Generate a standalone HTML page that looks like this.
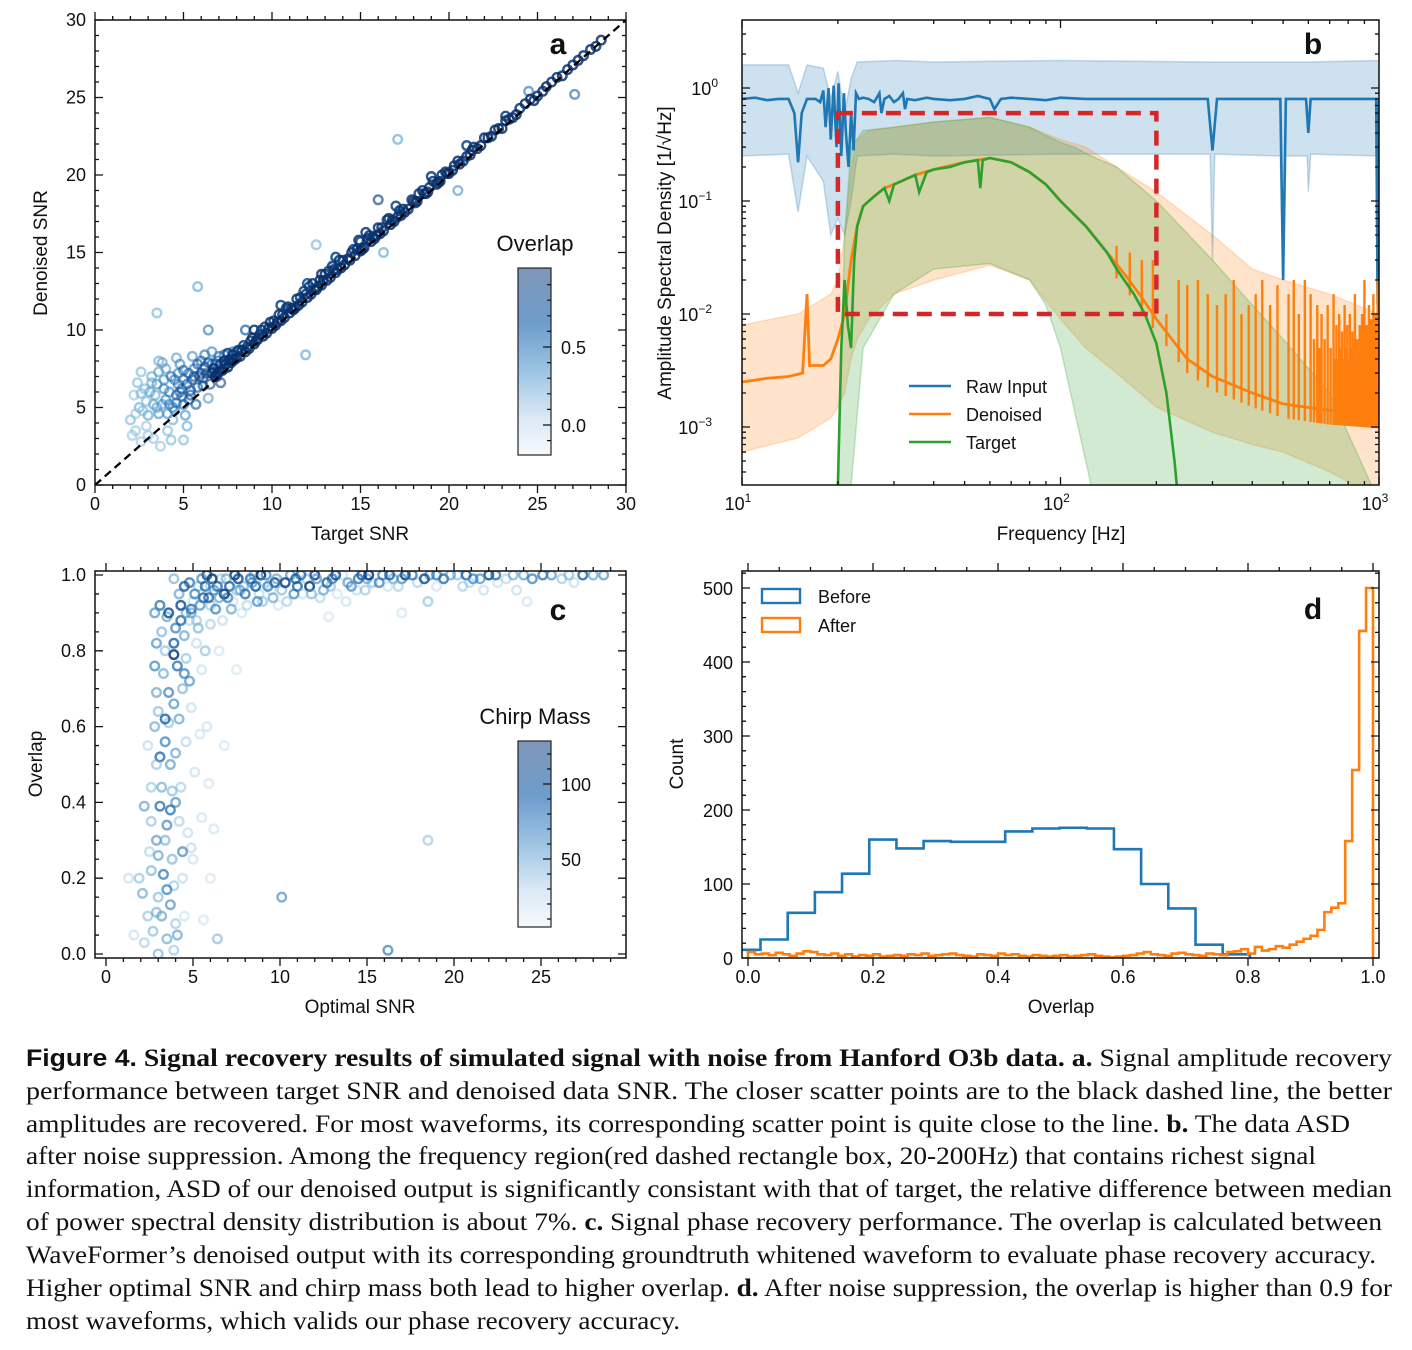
<!DOCTYPE html>
<html><head><meta charset="utf-8">
<style>
html,body{margin:0;padding:0;background:#fff;}
svg{display:block;font-family:"Liberation Sans",sans-serif;}
</style></head>
<body>
<svg id="fig" width="1412" height="1350" viewBox="0 0 1412 1350" xmlns="http://www.w3.org/2000/svg">
<defs>
<clipPath id="clipA"><rect x="95" y="20" width="531" height="465"/></clipPath>
<clipPath id="clipB"><rect x="742" y="20" width="637" height="465"/></clipPath>
<clipPath id="clipC"><rect x="95" y="571" width="531" height="387"/></clipPath>
<clipPath id="clipD"><rect x="742" y="571" width="637" height="387"/></clipPath>
<linearGradient id="cbGrad" x1="0" y1="0" x2="0" y2="1">
<stop offset="0" stop-color="#7f95b8"/>
<stop offset="0.3" stop-color="#6e9dcc"/>
<stop offset="0.55" stop-color="#9cc3e3"/>
<stop offset="0.8" stop-color="#dbe8f5"/>
<stop offset="1" stop-color="#f5f9fd"/>
</linearGradient>
</defs>
<g id="layer"></g>
<g font-family="Liberation Serif, serif" font-size="25" fill="#111">
<text x="26" y="1066" textLength="1366" lengthAdjust="spacingAndGlyphs"><tspan font-family="Liberation Sans, sans-serif" font-weight="bold" font-size="24">Figure 4.</tspan><tspan font-weight="bold"> Signal recovery results of simulated signal with noise from Hanford O3b data. a.</tspan> Signal amplitude recovery</text>
<text x="26" y="1099" textLength="1366" lengthAdjust="spacingAndGlyphs">performance between target SNR and denoised data SNR. The closer scatter points are to the black dashed line, the better</text>
<text x="26" y="1132" textLength="1324" lengthAdjust="spacingAndGlyphs">amplitudes are recovered. For most waveforms, its corresponding scatter point is quite close to the line. <tspan font-weight="bold">b.</tspan> The data ASD</text>
<text x="26" y="1164" textLength="1290" lengthAdjust="spacingAndGlyphs">after noise suppression. Among the frequency region(red dashed rectangle box, 20-200Hz) that contains richest signal</text>
<text x="26" y="1197" textLength="1366" lengthAdjust="spacingAndGlyphs">information, ASD of our denoised output is significantly consistant with that of target, the relative difference between median</text>
<text x="26" y="1230" textLength="1356" lengthAdjust="spacingAndGlyphs">of power spectral density distribution is about 7%. <tspan font-weight="bold">c.</tspan> Signal phase recovery performance. The overlap is calculated between</text>
<text x="26" y="1263" textLength="1350" lengthAdjust="spacingAndGlyphs">WaveFormer’s denoised output with its corresponding groundtruth whitened waveform to evaluate phase recovery accuracy.</text>
<text x="26" y="1296" textLength="1366" lengthAdjust="spacingAndGlyphs">Higher optimal SNR and chirp mass both lead to higher overlap. <tspan font-weight="bold">d.</tspan> After noise suppression, the overlap is higher than 0.9 for</text>
<text x="26" y="1329" textLength="654" lengthAdjust="spacingAndGlyphs">most waveforms, which valids our phase recovery accuracy.</text>
</g>
</svg>
<script>
// ---------- Panel a data: [targetSNR, denoisedSNR, overlap] ----------
const aDiagonal = [
[6.6,7.2,0.85],[6.9,7.2,0.9],[7.1,7.8,0.8],[7.4,7.8,0.95],[7.6,8.1,0.85],[7.9,8.1,0.95],[8.1,8.7,0.85],[8.3,8.7,0.95],[8.6,8.9,0.9],[8.8,9.3,0.85],[9.1,9.3,0.95],[9.3,9.7,0.9],[9.6,10.2,0.8],[9.8,10.1,0.95],[10.1,10.6,0.85],[10.3,10.5,0.95],[10.6,11.0,0.9],[10.8,11.4,0.8],[11.1,11.4,0.95],[11.3,11.4,0.9],[11.6,12.1,0.85],[11.9,12.3,0.95],[12.1,12.8,0.8],[12.4,12.6,0.95],[12.7,13.2,0.9],[12.9,13.2,0.95],[13.2,13.8,0.85],[13.5,13.9,0.95],[13.7,13.9,0.9],[14.0,14.5,0.85],[14.3,14.6,0.95],[14.6,15.2,0.8],[14.8,15.2,0.95],[15.1,15.2,0.9],[15.4,15.9,0.85],[15.7,16.0,0.95],[15.9,16.1,0.9],[16.2,16.6,0.95],[16.5,17.1,0.85],[16.8,17.1,0.95],[17.1,17.3,0.9],[17.4,17.8,0.95],[17.7,17.8,0.9],[18.0,18.3,0.95],[18.3,18.8,0.85],[18.6,18.8,0.95],[18.9,19.2,0.9],[19.3,19.4,0.95],[19.6,20.0,0.9],[19.9,20.1,0.95],[20.3,20.6,0.9],[20.6,20.7,0.95],[21.0,21.2,0.95],[21.4,21.8,0.9],[21.8,21.9,0.95],[22.2,22.4,0.95],[22.6,22.9,0.9],[23.0,23.0,0.95],[23.4,23.6,0.95],[23.8,23.9,0.9],[24.3,24.6,0.95],[24.8,24.8,0.95],[25.3,25.4,0.9],[25.8,26.0,0.95],[26.4,26.4,0.95],[27.0,27.1,0.9],[27.6,27.7,0.95],[28.3,28.3,0.95],
[6.8,7.0,0.95],[7.2,7.4,1.0],[7.7,7.9,1.0],[8.2,8.3,1.0],[8.7,8.8,1.0],[9.2,9.4,1.0],[9.7,9.8,1.0],[10.2,10.3,1.0],[10.7,10.8,1.0],[11.2,11.3,1.0],[11.7,11.8,1.0],[12.2,12.3,1.0],[12.8,12.9,1.0],[13.3,13.4,1.0],[13.9,14.0,1.0],[14.4,14.5,1.0],[15.0,15.1,1.0],[15.6,15.7,1.0],[16.1,16.2,1.0],[16.7,16.8,1.0],[17.3,17.4,1.0],[18.1,18.2,1.0],[18.8,18.9,1.0],[19.5,19.6,1.0],[20.2,20.3,1.0],[21.2,21.3,1.0],[22.4,22.5,1.0],[23.6,23.7,1.0],[25.0,25.1,1.0],[26.7,26.8,1.0],
[7.5,8.5,0.8],[9.0,10.0,0.85],[10.5,11.6,0.8],[12.0,13.0,0.75],[13.6,14.7,0.8],[15.3,16.3,0.85],[17.0,18.0,0.8],[19.0,19.9,0.85],[21.0,21.9,0.8],[23.2,23.8,0.85],[12.8,13.6,0.95],[14.9,15.8,0.95]
];
const aDiagonal2 = [
[6.7,7.5,0.9],[7.0,7.3,1.0],[7.3,8.0,0.9],[7.5,7.6,1.0],[7.8,8.4,0.9],[8.0,8.2,1.0],[8.4,9.0,0.85],[8.5,8.6,1.0],[8.9,9.5,0.9],[9.0,9.1,1.0],[9.4,10.0,0.85],[9.5,9.6,1.0],[9.9,10.5,0.9],[10.0,10.1,1.0],[10.4,11.0,0.9],[10.5,10.6,1.0],[10.9,11.5,0.85],[11.0,11.1,1.0],[11.4,12.0,0.9],[11.5,11.6,1.0],[11.8,12.5,0.85],[12.0,12.1,1.0],[12.3,13.0,0.9],[12.5,12.6,1.0],[12.6,12.8,1.0],[13.0,13.6,0.9],[13.1,13.2,1.0],[13.4,14.1,0.85],[13.6,13.7,1.0],[13.8,14.5,0.9],[14.1,14.2,1.0],[14.5,15.0,0.9],[14.7,14.8,1.0],[15.0,15.7,0.85],[15.2,15.3,1.0],[15.5,16.1,0.9],[15.8,15.9,1.0],[16.0,16.6,0.9],[16.3,16.4,1.0],[16.6,17.2,0.9],[16.9,17.0,1.0],[17.2,17.7,0.9],[17.5,17.6,1.0],[17.9,18.4,0.9],[18.2,18.3,1.0],[18.5,19.0,0.9],[18.7,18.8,1.0],[19.1,19.6,0.9],[19.4,19.5,1.0],[19.8,20.2,0.9],[20.0,20.1,1.0],[20.5,20.9,0.9],[20.8,20.9,1.0],[21.3,21.6,0.95],[21.6,21.7,1.0],[22.0,22.4,0.95],[22.8,23.0,1.0],[23.2,23.5,0.95],[24.0,24.3,1.0],[24.6,24.9,0.95],[25.5,25.7,1.0],[26.1,26.3,0.95],[27.3,27.4,1.0],[28.0,28.1,0.95],[28.6,28.7,1.0]
];
const aCluster = [
[2.0,4.2,0.1],[2.3,3.5,0.0],[2.5,5.0,0.2],[2.8,6.2,0.1],[2.2,5.8,0.0],[3.0,4.5,0.3],[3.2,7.0,0.2],[2.6,7.3,0.1],[3.5,6.5,0.4],[3.8,5.2,0.3],[3.3,3.0,0.0],[4.0,7.5,0.3],[4.2,6.0,0.5],[4.5,4.8,0.5],[3.7,2.5,0.0],[4.1,3.5,0.1],[4.8,7.8,0.5],[5.0,6.8,0.6],[5.3,5.5,0.7],[4.6,8.2,0.3],[5.6,7.5,0.6],[5.8,6.3,0.8],[6.0,8.0,0.7],[6.3,7.2,0.8],[6.5,6.5,0.9],[6.8,7.8,0.7],[7.0,8.3,0.7],[7.3,7.5,0.8],[2.9,3.8,0.0],[3.4,5.8,0.2],[4.4,4.2,0.2],[5.1,4.5,0.4],[5.5,8.3,0.4],[6.2,8.4,0.6],[3.6,8.0,0.2],[2.4,6.6,0.1],[4.9,5.7,0.6],[5.2,3.8,0.2],[4.3,2.9,0.1],[3.9,6.8,0.4],[7.6,8.1,0.8],[8.0,8.6,0.8],[4.7,6.5,0.6],[3.1,6.0,0.3],[2.7,4.8,0.1],[6.6,8.6,0.5],[7.8,8.6,0.6],[5.9,7.0,0.9],[5.4,6.1,0.8],[6.1,6.4,0.9],[5.7,5.2,0.8],[4.4,5.0,0.6],[3.6,4.6,0.4],[3.0,3.2,0.0],[2.6,2.8,0.0],[5.0,2.9,0.1],[4.7,7.2,0.5],[6.4,5.6,0.3],[7.1,6.6,0.9],[6.9,7.0,0.9],[4.0,5.5,0.5],[5.5,6.8,0.8],[6.2,7.6,0.8],[4.9,6.2,0.7],[3.3,5.2,0.3],[4.6,5.3,0.6],[5.3,7.2,0.7],[6.7,7.3,0.9],[2.1,3.2,0.0],[3.8,7.9,0.3],
[4.3,7.0,0.6],[4.8,6.0,0.7],[5.2,6.5,0.8],[5.6,7.0,0.85],[6.0,7.2,0.9],[5.8,7.8,0.8],[5.0,7.4,0.7],[4.5,6.8,0.6],[6.4,7.9,0.85],[3.9,6.2,0.5],[4.2,5.2,0.5],[4.6,5.8,0.7],[5.4,5.8,0.85],[6.1,6.9,0.9],[6.6,7.8,0.8],[3.6,7.3,0.3],[3.2,6.6,0.2],[2.9,5.4,0.1],[3.5,5.0,0.3],[4.1,4.6,0.4],[5.0,5.2,0.7],[6.9,8.0,0.75],[7.3,8.4,0.7],[2.3,4.6,0.0],[2.6,5.9,0.1]
];
const aOutliers = [
[17.1,22.3,0.2],[16.3,15.0,0.2],[27.1,25.2,0.6],[16.0,18.4,0.9],[5.8,12.8,0.2],[3.5,11.1,0.1],[6.4,10.0,0.5],[8.5,10.0,0.8],[11.9,8.4,0.2],[13.5,14.3,0.0],[12.5,15.5,0.1],[20.5,19.0,0.3],[24.5,25.4,0.5]
];
const aTicks = [0,5,10,15,20,25,30];
const aCbarTicks = [0.0,0.5];

// ---------- Panel b data: [frequency Hz, ASD] ----------
const rawInput = [[10,0.8],[11,0.82],[12,0.78],[13,0.8],[14,0.8],[14.6,0.6],[15,0.22],[15.4,0.6],[16,0.8],[17,0.8],[17.6,0.75],[18,0.95],[18.3,0.45],[18.7,1.0],[19,0.35],[19.4,1.05],[19.8,0.3],[20.1,1.1],[20.5,0.25],[20.9,0.9],[21.2,0.4],[21.6,0.2],[22,0.6],[22.4,0.28],[22.8,0.9],[23.3,0.8],[24,0.82],[25,0.8],[26,0.75],[27,0.9],[27.4,0.6],[28,0.8],[29,0.85],[30,0.75],[31,0.8],[32,0.9],[32.5,0.65],[33,0.8],[35,0.78],[38,0.82],[40,0.8],[45,0.78],[50,0.8],[55,0.85],[60,0.8],[62,0.65],[65,0.8],[70,0.82],[80,0.8],[90,0.78],[100,0.82],[120,0.8],[150,0.8],[200,0.8],[250,0.8],[290,0.8],[300,0.28],[310,0.8],[400,0.8],[490,0.8],[500,0.02],[510,0.8],[590,0.8],[600,0.4],[610,0.8],[700,0.8],[800,0.8],[900,0.8],[980,0.8],[990,0.012],[1000,0.8]];
const rawBand = [[10,1.6,0.25],[14,1.6,0.26],[15,0.9,0.08],[16,1.6,0.25],[18,1.5,0.15],[19,0.8,0.05],[20,1.4,0.07],[21,0.6,0.05],[22,1.2,0.1],[23,1.7,0.25],[30,1.75,0.26],[40,1.7,0.25],[100,1.75,0.26],[295,1.7,0.26],[300,1.7,0.03],[305,1.7,0.26],[490,1.7,0.25],[500,1.7,0.02],[510,1.7,0.25],[595,1.7,0.25],[600,1.7,0.12],[610,1.7,0.26],[1000,1.75,0.25]];
const denoised = [[10,0.0025],[12,0.0027],[14,0.0028],[15.5,0.003],[16,0.015],[16.3,0.0035],[18,0.0035],[19,0.004],[20,0.006],[21,0.01],[22,0.03],[23,0.06],[24,0.09],[26,0.11],[28,0.13],[30,0.14],[35,0.17],[40,0.19],[50,0.22],[60,0.24],[70,0.22],[80,0.18],[90,0.14],[100,0.1],[120,0.06],[140,0.035],[160,0.022],[180,0.014],[200,0.009],[250,0.004],[300,0.0028],[400,0.002],[500,0.0016],[700,0.0014],[1000,0.0013]];
const denoisedSpikes = [[150,0.04],[165,0.035],[180,0.03],[195,0.03],[215,0.01],[235,0.02],[250,0.018],[270,0.02],[290,0.015],[310,0.012],[330,0.015],[350,0.02],[370,0.01],[390,0.012],[410,0.015],[430,0.02],[455,0.012],[480,0.018],[520,0.015],[540,0.02],[560,0.01],[585,0.02],[610,0.015],[625,0.006],[640,0.012],[650,0.005],[660,0.01],[675,0.006],[690,0.012],[705,0.005],[720,0.015],[728,0.004],[735,0.008],[742,0.004],[750,0.01],[758,0.005],[765,0.007],[772,0.004],[780,0.012],[788,0.005],[795,0.008],[802,0.004],[810,0.01],[818,0.005],[825,0.007],[832,0.005],[840,0.015],[848,0.004],[855,0.006],[862,0.005],[870,0.008],[878,0.004],[885,0.01],[892,0.005],[900,0.02],[908,0.005],[915,0.008],[922,0.004],[930,0.012],[938,0.005],[945,0.009],[952,0.005],[960,0.015],[968,0.005],[975,0.01],[982,0.006],[990,0.02],[996,0.006]];
const denoisedBand = [[10,0.008,0.0006],[15,0.01,0.0008],[19,0.015,0.0012],[20,0.02,0.0015],[21,0.05,0.002],[22,0.2,0.004],[23,0.35,0.006],[25,0.42,0.009],[30,0.45,0.015],[40,0.5,0.02],[60,0.55,0.027],[80,0.45,0.02],[100,0.35,0.009],[120,0.3,0.005],[150,0.2,0.003],[200,0.12,0.0015],[300,0.05,0.0009],[400,0.025,0.0007],[500,0.02,0.0006],[700,0.015,0.0004],[850,0.012,0.0003],[1000,0.01,0.0003]];
const target = [[20,0.0003],[20.5,0.005],[21,0.02],[21.5,0.008],[22,0.005],[22.5,0.03],[23,0.06],[24,0.09],[26,0.11],[28,0.13],[29,0.1],[30,0.14],[35,0.17],[36,0.12],[38,0.18],[40,0.19],[45,0.2],[50,0.22],[55,0.23],[56,0.13],[57,0.23],[60,0.24],[70,0.22],[80,0.18],[90,0.14],[100,0.1],[120,0.06],[140,0.035],[150,0.025],[170,0.015],[184,0.01],[200,0.0055],[215,0.002],[228,0.0005],[232,0.0003]];
const targetBand = [[20,0.0003,0.0003],[21,0.05,0.0003],[22,0.3,0.0003],[24,0.42,0.005],[30,0.45,0.015],[40,0.5,0.025],[60,0.55,0.028],[80,0.45,0.02],[90,0.38,0.012],[100,0.33,0.005],[110,0.3,0.0015],[125,0.25,0.0003],[150,0.2,0.0003],[200,0.1,0.0003],[300,0.03,0.0003],[400,0.012,0.0003],[500,0.006,0.0003],[700,0.002,0.0003],[850,0.0006,0.0003],[950,0.0003,0.0003]];
const bRegion = [20,200,0.01,0.6];
const bXTicks = [1,2,3];
const bYTicks = [0,-1,-2,-3];

// ---------- Panel c data: [optimalSNR, overlap, chirpMass] ----------
const cTop = [
[4.2,0.95,60],[4.8,0.98,90],[5.3,0.97,40],[5.8,1.0,110],[6.2,0.96,70],[6.6,0.99,30],[7.0,0.94,85],[7.4,1.0,120],[7.9,0.97,50],[8.3,0.99,95],[8.8,0.95,25],[9.2,1.0,80],[9.7,0.98,110],[10.1,0.96,45],[10.6,1.0,70],[11.0,0.97,100],[11.5,0.99,35],[12.0,1.0,115],[12.5,0.96,60],[13.0,0.99,90],[13.6,1.0,20],[14.1,0.97,75],[14.7,1.0,105],[15.3,0.98,40],[15.9,1.0,85],[16.5,0.99,55],[17.2,1.0,120],[17.9,0.98,30],[18.6,1.0,70],[19.4,0.99,95],[20.2,1.0,45],[21.1,0.99,80],[22.0,1.0,110],[23.0,0.99,25],[24.0,1.0,65],[25.1,1.0,90],[26.2,0.99,35],[27.4,1.0,100],[28.6,1.0,70],
[5.0,0.93,20],[5.5,0.99,75],[6.0,0.92,35],[6.4,0.97,95],[6.9,0.99,55],[7.3,0.93,15],[7.7,0.96,65],[8.1,0.92,25],[8.6,0.97,105],[9.0,0.93,40],[9.5,0.96,20],[10.4,0.93,30],[11.3,0.95,15],[12.3,0.94,25],[13.3,0.95,10],[14.4,0.96,20],[16.2,0.97,15],[18.5,0.93,40],[19.0,0.97,12],[22.5,0.98,15],[23.6,0.96,20],[4.6,0.9,55],[5.2,0.88,35],[6.7,0.88,20],[7.8,0.9,12],[9.9,0.92,10],[12.8,0.89,8],[17.0,0.9,10],[24.2,0.93,12],[20.5,0.97,30],[15.0,0.99,60],[10.9,0.99,100],[8.5,1.0,60],[6.8,0.95,120],[5.6,0.94,100],[3.9,0.99,50],[26.9,0.98,20],[21.7,0.96,18],[13.8,0.93,14]
];
const cTop2 = [
[4.5,0.97,100],[5.1,0.95,80],[5.7,0.97,95],[6.1,0.99,120],[6.5,0.94,60],[7.1,0.97,100],[7.6,0.99,110],[8.0,0.95,90],[8.4,0.98,70],[8.9,1.0,125],[9.3,0.97,85],[9.8,0.99,60],[10.3,0.98,115],[10.8,0.95,75],[11.2,1.0,95],[11.7,0.97,120],[12.1,0.99,70],[12.7,0.98,100],[13.2,1.0,110],[13.9,0.98,65],[14.5,0.99,90],[15.1,1.0,120],[15.7,0.98,80],[16.3,1.0,100],[17.0,0.99,75],[17.6,1.0,90],[18.3,0.99,110],[19.0,1.0,85],[19.8,1.0,60],[20.7,1.0,100],[21.5,0.99,70],[22.4,1.0,90],[23.4,1.0,55],[24.5,0.99,80],[25.6,1.0,70],[26.6,1.0,45],[28.0,1.0,60],
[4.3,0.92,110],[4.9,0.91,90],[5.4,0.92,70],[5.9,0.94,95],[6.3,0.91,80],[7.2,0.91,60],[8.7,0.93,75],[9.6,0.94,55],[11.8,0.95,45],[7.5,0.96,40],[6.0,0.97,30],[9.1,0.98,35],[14.9,0.96,35],[12.9,0.97,40],[16.8,0.97,30],[20.9,0.98,25]
];
const cLow = [
[3.1,0.92,90],[2.8,0.9,70],[3.5,0.89,60],[4.0,0.86,80],[3.2,0.85,50],[2.9,0.82,70],[3.9,0.82,100],[4.5,0.84,60],[3.4,0.8,40],[2.8,0.76,75],[3.3,0.74,55],[4.1,0.76,90],[4.6,0.78,40],[2.9,0.69,60],[3.6,0.69,80],[4.4,0.7,50],[3.0,0.64,45],[3.9,0.66,70],[2.8,0.6,55],[3.4,0.56,80],[3.1,0.52,95],[4.0,0.53,60],[2.9,0.5,40],[3.7,0.5,65],[2.6,0.44,35],[3.2,0.44,55],[3.8,0.43,45],[4.3,0.44,30],[2.2,0.39,60],[3.1,0.39,90],[4.0,0.4,70],[2.6,0.35,40],[3.5,0.34,75],[4.2,0.35,30],[2.9,0.3,65],[3.4,0.3,50],[4.7,0.32,20],[1.9,0.2,40],[2.6,0.22,50],[3.3,0.21,85],[3.9,0.18,35],[4.4,0.2,20],[2.1,0.16,55],[3.0,0.15,45],[3.7,0.13,70],[2.4,0.1,40],[3.2,0.1,60],[4.0,0.08,35],[2.7,0.06,45],[3.5,0.04,55],[2.2,0.03,30],[3.0,0.0,50],[3.9,0.01,35],[6.4,0.04,45],[10.1,0.15,70],[18.5,0.3,35],[16.2,0.01,80],
[4.8,0.88,25],[5.2,0.82,20],[5.5,0.75,15],[4.9,0.65,18],[5.4,0.58,12],[5.8,0.6,14],[5.1,0.48,15],[5.9,0.45,10],[4.6,0.56,25],[5.5,0.36,12],[6.2,0.33,10],[5.0,0.25,14],[6.0,0.2,10],[4.5,0.1,12],[1.6,0.05,15],[1.3,0.2,18],[5.6,0.09,10],[6.8,0.55,8],[7.5,0.75,8],[6.5,0.8,10],[4.2,0.62,60],[3.6,0.61,40],[2.5,0.27,25],[4.9,0.28,20],[3.8,0.25,50],[2.4,0.55,20],
[3.6,0.9,110],[4.3,0.88,95],[3.9,0.79,120],[4.5,0.74,80],[3.4,0.62,100],[4.8,0.72,70],[3.7,0.38,90],[4.4,0.27,75],[3.0,0.26,60],[3.5,0.17,80],[4.1,0.05,60],[2.9,0.11,50],[4.9,0.9,60],[5.3,0.86,50],[6.0,0.87,30],[5.7,0.8,40]
];
const cXTicks = [0,5,10,15,20,25];
const cYTicks = [0.0,0.2,0.4,0.6,0.8,1.0];
const cCbarTicks = [50,100];

// ---------- Panel d data: histogram counts ----------
const beforeStart = -0.0235;
const beforeWidth = 0.0435;
const beforeCounts = [11,25,61,89,114,160,148,158,157,157,171,175,176,175,147,100,67,18,5];
const afterStart = 0.0;
const afterWidth = 1/90;
const afterCounts = [8,5,6,4,7,5,3,6,9,8, 5,4,6,3,5,2,4,3,5,2, 3,4,3,5,4,6,3,4,5,6, 4,3,2,5,4,3,6,4,5,3, 2,4,3,2,3,4,2,3,4,5, 3,2,1,2,3,4,6,8,5,4, 3,6,7,5,4,3,6,5,4,8, 9,12,6,15,10,12,16,14,18,22, 26,30,38,62,68,74,158,254,442,500];
const dXTicks = [0.0,0.2,0.4,0.6,0.8,1.0];
const dYTicks = [0,100,200,300,400,500];

// ---------- helpers ----------
const NS = 'http://www.w3.org/2000/svg';
const layer = document.getElementById('layer');
function mk(tag, attrs, parent) {
  const e = document.createElementNS(NS, tag);
  for (const k in attrs) e.setAttribute(k, attrs[k]);
  (parent || layer).appendChild(e);
  return e;
}
function txt(x, y, s, size, anchor, parent, extra) {
  const t = mk('text', Object.assign({x: x, y: y, 'font-size': size, 'text-anchor': anchor || 'middle', fill: '#111'}, extra || {}), parent);
  t.textContent = s;
  return t;
}
const BLUES = [[247,251,255],[222,235,247],[198,219,239],[158,202,225],[107,174,214],[66,146,198],[33,113,181],[8,81,156],[8,48,107]];
function blues(t) {
  t = Math.max(0, Math.min(1, t));
  const p = t * 8, i = Math.min(7, Math.floor(p)), f = p - i;
  const a = BLUES[i], b = BLUES[i + 1];
  return 'rgb(' + [0,1,2].map(k => Math.round(a[k] + (b[k] - a[k]) * f)).join(',') + ')';
}
function ticksLinear(g, x0, y0, x1, y1, sx, sy, xMaj, xMin, yMaj, yMin) {
  let d = '';
  xMaj.forEach(v => { const x = sx(v); d += `M${x},${y1}v-8M${x},${y0}v8`; });
  xMin.forEach(v => { const x = sx(v); d += `M${x},${y1}v-4M${x},${y0}v4`; });
  yMaj.forEach(v => { const y = sy(v); d += `M${x0},${y}h8M${x1},${y}h-8`; });
  yMin.forEach(v => { const y = sy(v); d += `M${x0},${y}h4M${x1},${y}h-4`; });
  mk('path', {d: d, stroke: '#111', 'stroke-width': 1.3, fill: 'none'}, g);
}
function range(a, b, s) { const r = []; for (let v = a; v <= b + 1e-9; v += s) r.push(+v.toFixed(6)); return r; }
function frame(g, x0, y0, x1, y1) {
  mk('rect', {x: x0, y: y0, width: x1 - x0, height: y1 - y0, fill: 'none', stroke: '#111', 'stroke-width': 1.5}, g);
}
function ring(g, x, y, col, op) {
  return mk('circle', {cx: x, cy: y, r: 4.3, fill: 'none', stroke: col, 'stroke-width': 2.4, 'stroke-opacity': op}, g);
}

// ================= Panel a =================
const gA = mk('g', {});


const xa = v => 95 + v * 531 / 30;
const ya = v => 485 - v * 465 / 30;
const ovNorm = v => (v + 0.19) / 1.19;
const gAp = mk('g', {'clip-path': 'url(#clipA)'}, gA);


aCluster.forEach(p => { const c = ring(gAp, xa(p[0]), ya(p[1]), blues(0.3 + ovNorm(p[2]) * 0.7), 0.6);   });
aOutliers.forEach(p => { const c = ring(gAp, xa(p[0]), ya(p[1]), blues(0.3 + ovNorm(p[2]) * 0.7), 0.65);   });
aDiagonal.concat(aDiagonal2).forEach(p => { const c = ring(gAp, xa(p[0]), ya(p[1]), blues(0.35 + ovNorm(p[2]) * 0.7), 0.85);   });
const diag = mk('line', {x1: xa(0), y1: ya(0), x2: xa(30), y2: ya(30), stroke: '#000', 'stroke-width': 2.3, 'stroke-dasharray': '8,5'}, gAp);


frame(gA, 95, 20, 626, 485);
ticksLinear(gA, 95, 485, 626, 20, xa, ya, aTicks, range(0, 30, 1), aTicks, range(0, 30, 1));
aTicks.forEach(v => { const t = txt(xa(v), 510, String(v), 18, 'middle', gA);   });
aTicks.forEach(v => { const t = txt(86, ya(v) + 6, String(v), 18, 'end', gA);   });
let t;
t = txt(360, 540, 'Target SNR', 19, 'middle', gA);  
t = txt(0, 0, 'Denoised SNR', 19, 'middle', gA, {transform: 'translate(47,253) rotate(-90)'});  
t = txt(558, 54, 'a', 30, 'middle', gA, {'font-weight': 'bold'});  
const cbA = mk('g', {}, gA);


mk('rect', {x: 518, y: 268, width: 33, height: 187, fill: 'url(#cbGrad)', stroke: '#222', 'stroke-width': 1.2}, cbA);
const cbAy = v => 425 - v * 156;
let dd = '';
range(-0.1, 0.9, 0.1).forEach(v => { dd += `M551,${cbAy(v)}h-4`; });
aCbarTicks.forEach(v => { dd += `M551,${cbAy(v)}h-8`; });
mk('path', {d: dd, stroke: '#111', 'stroke-width': 1.2}, cbA);
aCbarTicks.forEach(v => { const tt = txt(561, cbAy(v) + 7, v.toFixed(1), 18, 'start', cbA);   });
t = txt(535, 251, 'Overlap', 22, 'middle', cbA);  

// ================= Panel b =================
const gB = mk('g', {});


const xb = f => 742 + (Math.log10(f) - 1) * 318.5;
const yb = a => 88 - Math.log10(a) * 113;
const gBp = mk('g', {'clip-path': 'url(#clipB)'}, gB);
function bandPath(arr) {
  let d = 'M' + arr.map(p => xb(p[0]) + ',' + yb(p[1])).join('L');
  d += 'L' + arr.slice().reverse().map(p => xb(p[0]) + ',' + yb(p[2])).join('L') + 'Z';
  return d;
}
function linePath(arr) { return 'M' + arr.map(p => xb(p[0]) + ',' + yb(p[1])).join('L'); }
let e;
e = mk('path', {d: bandPath(rawBand), fill: '#1f77b4', 'fill-opacity': 0.22, stroke: '#1f77b4', 'stroke-opacity': 0.25, 'stroke-width': 1.5}, gBp);
 
e = mk('path', {d: bandPath(denoisedBand), fill: '#ff7f0e', 'fill-opacity': 0.22, stroke: '#ff7f0e', 'stroke-opacity': 0.2, 'stroke-width': 1.5}, gBp);
 
e = mk('path', {d: bandPath(targetBand), fill: '#2ca02c', 'fill-opacity': 0.22, stroke: '#2ca02c', 'stroke-opacity': 0.25, 'stroke-width': 1.5}, gBp);
 
e = mk('path', {d: linePath(rawInput), fill: 'none', stroke: '#1f77b4', 'stroke-width': 2.6}, gBp);
 
function interpDen(f) {
  for (let i = 0; i < denoised.length - 1; i++) {
    const a = denoised[i], b = denoised[i + 1];
    if (f >= a[0] && f <= b[0]) {
      const t2 = (Math.log10(f) - Math.log10(a[0])) / (Math.log10(b[0]) - Math.log10(a[0]));
      return Math.pow(10, Math.log10(a[1]) + t2 * (Math.log10(b[1]) - Math.log10(a[1])));
    }
  }
  return denoised[denoised.length - 1][1];
}
let sp = '';
denoisedSpikes.forEach(s => { sp += `M${xb(s[0])},${yb(interpDen(s[0]) * 0.75)}V${yb(s[1])}`; });
e = mk('path', {d: sp, stroke: '#ff7f0e', 'stroke-width': 2.4, fill: 'none'}, gBp);
 
e = mk('path', {d: linePath(denoised), fill: 'none', stroke: '#ff7f0e', 'stroke-width': 2.8}, gBp);
 
e = mk('path', {d: linePath(target), fill: 'none', stroke: '#2ca02c', 'stroke-width': 2.6}, gBp);
 
e = mk('rect', {x: xb(bRegion[0]), y: yb(bRegion[3]), width: xb(bRegion[1]) - xb(bRegion[0]), height: yb(bRegion[2]) - yb(bRegion[3]), fill: 'none', stroke: '#d62728', 'stroke-width': 4.5, 'stroke-dasharray': '15,9'}, gBp);
 
frame(gB, 742, 20, 1379, 485);
let db = '';
for (let dec = 1; dec <= 2; dec++) for (let m = 1; m <= 9; m++) {
  const x = xb(m * Math.pow(10, dec)); const L = m === 1 ? 8 : 4;
  db += `M${x},485v-${L}M${x},20v${L}`;
}
db += `M${xb(1000)},485v-8`;
for (let dec = -4; dec <= 0; dec++) for (let m = 1; m <= 9; m++) {
  const y = yb(m * Math.pow(10, dec)); if (y < 20 || y > 485) continue; const L = m === 1 ? 8 : 4;
  db += `M742,${y}h${L}M1379,${y}h-${L}`;
}
mk('path', {d: db, stroke: '#111', 'stroke-width': 1.3, fill: 'none'}, gB);
bXTicks.forEach(p => {
  const tt = txt(xb(Math.pow(10, p)) - 4, 510, '10', 18, 'middle', gB);
  const s = mk('tspan', {dy: -8, 'font-size': 12}, tt); s.textContent = String(p);
   
});
bYTicks.forEach(p => {
  const tt = txt(p === 0 ? 718 : 712, yb(Math.pow(10, p)) + 7, '10', 18, 'end', gB);
  const s = mk('tspan', {dy: -8, 'font-size': 12}, tt); s.textContent = p === 0 ? '0' : '−' + (-p);
   
});
t = txt(1061, 540, 'Frequency [Hz]', 19, 'middle', gB);  
t = txt(0, 0, 'Amplitude Spectral Density [1/√Hz]', 19, 'middle', gB, {transform: 'translate(671,253) rotate(-90)'});  
t = txt(1313, 54, 'b', 30, 'middle', gB, {'font-weight': 'bold'});  
const legB = mk('g', {}, gB);


[['Raw Input', '#1f77b4', 386], ['Denoised', '#ff7f0e', 414], ['Target', '#2ca02c', 442]].forEach(r => {
  const le = mk('g', {}, legB);
  
  
  mk('line', {x1: 909, x2: 951, y1: r[2], y2: r[2], stroke: r[1], 'stroke-width': 2.6}, le);
  txt(966, r[2] + 7, r[0], 18, 'start', le);
});

// ================= Panel c =================
const gC = mk('g', {});


const xc = v => 106 + v * 17.4;
const yc = v => 954 - v * 379;
const mNorm = m => (m - 4.7) / 124;
const gCp = mk('g', {'clip-path': 'url(#clipC)'}, gC);


cLow.concat(cTop, cTop2).forEach(p => {
  const n = mNorm(p[2]);
  const c = ring(gCp, xc(p[0]), yc(p[1]), blues(0.35 + n * 0.65), 0.3 + n * 0.6);
  
  
});
frame(gC, 95, 571, 626, 958);
ticksLinear(gC, 95, 958, 626, 571, xc, yc, cXTicks, range(0, 29, 1), cYTicks, range(0, 1, 0.05));
cXTicks.forEach(v => { const tt = txt(xc(v), 983, String(v), 18, 'middle', gC);   });
cYTicks.forEach(v => { const tt = txt(86, yc(v) + 6, v.toFixed(1), 18, 'end', gC);   });
t = txt(360, 1013, 'Optimal SNR', 19, 'middle', gC);  
t = txt(0, 0, 'Overlap', 19, 'middle', gC, {transform: 'translate(42,764) rotate(-90)'});  
t = txt(558, 620, 'c', 30, 'middle', gC, {'font-weight': 'bold'});  
const cbC = mk('g', {}, gC);


mk('rect', {x: 518, y: 741, width: 33, height: 186, fill: 'url(#cbGrad)', stroke: '#222', 'stroke-width': 1.2}, cbC);
const cbCy = v => 859 - (v - 50) * 1.5;
let dc = '';
range(10, 120, 10).forEach(v => { dc += `M551,${cbCy(v)}h-4`; });
cCbarTicks.forEach(v => { dc += `M551,${cbCy(v)}h-8`; });
mk('path', {d: dc, stroke: '#111', 'stroke-width': 1.2}, cbC);
cCbarTicks.forEach(v => { const tt = txt(561, cbCy(v) + 7, String(v), 18, 'start', cbC);   });
t = txt(535, 724, 'Chirp Mass', 22, 'middle', cbC);  

// ================= Panel d =================
const gD = mk('g', {});


const xd = v => 748 + v * 625;
const yd = c => 958 - c * 0.74;
const gDp = mk('g', {'clip-path': 'url(#clipD)'}, gD);
function stepPath(start, w, counts) {
  let d = `M${xd(start)},${yd(0)}`;
  counts.forEach((c, i) => { d += `V${yd(c)}H${xd(start + (i + 1) * w)}`; });
  d += `V${yd(0)}`;
  return d;
}
e = mk('path', {d: stepPath(beforeStart, beforeWidth, beforeCounts), fill: 'none', stroke: '#1f77b4', 'stroke-width': 2.6}, gDp);
 
e = mk('path', {d: stepPath(afterStart, afterWidth, afterCounts), fill: 'none', stroke: '#ff7f0e', 'stroke-width': 2.6}, gDp);
 
frame(gD, 742, 571, 1379, 958);
ticksLinear(gD, 742, 958, 1379, 571, xd, yd, dXTicks, range(0, 1, 0.05), dYTicks, range(0, 520, 20));
dXTicks.forEach(v => { const tt = txt(xd(v), 983, v.toFixed(1), 18, 'middle', gD);   });
dYTicks.forEach(v => { const tt = txt(733, yd(v) + 7, String(v), 18, 'end', gD);   });
t = txt(1061, 1013, 'Overlap', 19, 'middle', gD);  
t = txt(0, 0, 'Count', 19, 'middle', gD, {transform: 'translate(683,764) rotate(-90)'});  
t = txt(1313, 619, 'd', 30, 'middle', gD, {'font-weight': 'bold'});  
const legD = mk('g', {}, gD);


[['Before', '#1f77b4', 596], ['After', '#ff7f0e', 625]].forEach(r => {
  const le = mk('g', {}, legD);
  
  
  mk('rect', {x: 762, y: r[2] - 7, width: 38, height: 14, fill: 'none', stroke: r[1], 'stroke-width': 2.4}, le);
  txt(818, r[2] + 7, r[0], 18, 'start', le);
});
</script>
</body></html>
